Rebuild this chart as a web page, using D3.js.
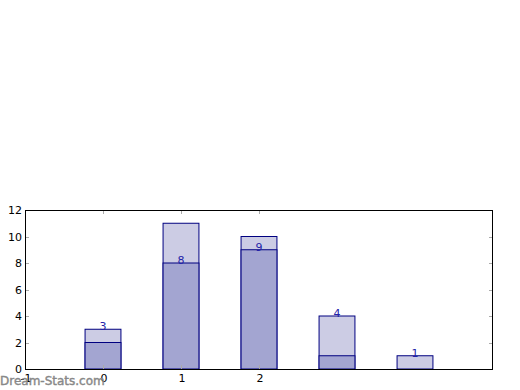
<!DOCTYPE html>
<html>
<head>
<meta charset="utf-8">
<script src="https://cdn.jsdelivr.net/npm/d3@7"></script>
<style>
  body { margin: 0; background: #fff; }
  text { font-family: "DejaVu Sans", sans-serif; }
</style>
</head>
<body>
<svg id="chart" width="520" height="390"></svg>
<script>
// chart data
var categories = [0, 1, 2, 3, 4];
var lowerValues = [2, 8, 9, 1, 0];
var totalValues = [3, 11, 10, 4, 1];
var labelValues = [3, 8, 9, 4, 1];
var xTicks = [-1, 0, 1, 2];
var yTicks = [0, 2, 4, 6, 8, 10, 12];

var svg = d3.select("#chart");

// plot area edges
var plotLeft = 25, plotRight = 493, plotTop = 210, plotBottom = 369;

var x = d3.scaleLinear().domain([-1, 5]).range([plotLeft, plotRight]);
var y = d3.scaleLinear().domain([0, 12]).range([plotBottom, plotTop]);
var barW = x(0.46) - x(0);

// light (total) bars
svg.append("g")
  .selectAll("rect")
  .data(categories)
  .enter()
  .append("rect")
  .attr("x", function (d) { return x(d) - barW / 2; })
  .attr("y", function (d, i) { return y(totalValues[i]); })
  .attr("width", barW)
  .attr("height", function (d, i) { return y(0) - y(totalValues[i]); })
  .attr("fill", "#cccce4")
  .attr("stroke", "#000080")
  .attr("stroke-width", 1);

// dark (lower) bars
svg.append("g")
  .selectAll("rect")
  .data(categories.filter(function (d, i) { return lowerValues[i] > 0; }))
  .enter()
  .append("rect")
  .attr("x", function (d) { return x(d) - barW / 2; })
  .attr("y", function (d) { return y(lowerValues[d]); })
  .attr("width", barW)
  .attr("height", function (d) { return y(0) - y(lowerValues[d]); })
  .attr("fill", "#a3a5d1")
  .attr("stroke", "#000080")
  .attr("stroke-width", 1);

// value labels
svg.append("g")
  .selectAll("text")
  .data(categories)
  .enter()
  .append("text")
  .attr("x", function (d) { return x(d); })
  .attr("y", function (d, i) { return y(labelValues[i]) + 1; })
  .attr("text-anchor", "middle")
  .attr("font-size", 11)
  .attr("fill", "#2323a8")
  .text(function (d, i) { return labelValues[i]; });

// ticks (inside, gray)
var tickG = svg.append("g").attr("stroke", "#aaa").attr("stroke-width", 1);
yTicks.forEach(function (t) {
  var ty = Math.round(y(t)) + 0.5;
  tickG.append("line").attr("x1", plotLeft).attr("x2", plotLeft + 4).attr("y1", ty).attr("y2", ty);
  tickG.append("line").attr("x1", plotRight - 4).attr("x2", plotRight).attr("y1", ty).attr("y2", ty);
});
xTicks.forEach(function (t) {
  var tx = Math.round(x(t)) + 0.5;
  tickG.append("line").attr("y1", plotBottom).attr("y2", plotBottom - 4).attr("x1", tx).attr("x2", tx);
  tickG.append("line").attr("y1", plotTop).attr("y2", plotTop + 4).attr("x1", tx).attr("x2", tx);
});

// frame
svg.append("rect")
  .attr("x", plotLeft + 0.5).attr("y", plotTop + 0.5)
  .attr("width", plotRight - plotLeft - 1).attr("height", plotBottom - plotTop)
  .attr("fill", "none").attr("stroke", "#000").attr("stroke-width", 1);

// y tick labels
svg.append("g")
  .selectAll("text")
  .data(yTicks)
  .enter()
  .append("text")
  .attr("x", plotLeft - 3)
  .attr("y", function (d) { return y(d) + 4; })
  .attr("text-anchor", "end")
  .attr("font-size", 11)
  .attr("fill", "#000")
  .text(function (d) { return d; });

// x tick labels
svg.append("g")
  .selectAll("text")
  .data(xTicks)
  .enter()
  .append("text")
  .attr("x", function (d) { return x(d) + 1; })
  .attr("y", plotBottom + 13)
  .attr("text-anchor", "middle")
  .attr("font-size", 11)
  .attr("fill", "#000")
  .text(function (d) { return d < 0 ? "-" + Math.abs(d) : d; });

// watermark
svg.append("text")
  .attr("x", 0)
  .attr("y", 385)
  .attr("font-size", 12)
  .attr("fill", "#888")
  .attr("stroke", "#888")
  .attr("stroke-width", 0.4)
  .text("Dream-Stats.com");
</script>
</body>
</html>
